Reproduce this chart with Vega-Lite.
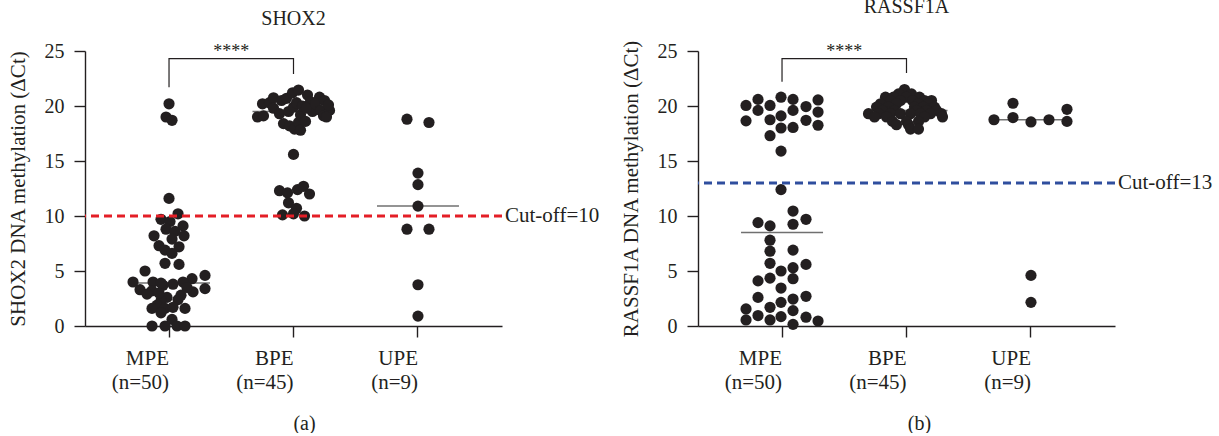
{
  "$schema": "https://vega.github.io/schema/vega-lite/v6.json",
  "background": "white",
  "padding": {"left": 6, "top": -3, "right": 0, "bottom": 0},
  "bounds": "flush",
  "spacing": 196,
  "config": {
    "font": "Liberation Serif",
    "view": {"stroke": null},
    "axis": {
      "grid": false,
      "domainColor": "#231f20", "domainWidth": 1.4,
      "tickColor": "#231f20", "tickWidth": 1.4,
      "labelColor": "#231f20", "titleColor": "#231f20",
      "labelFont": "Liberation Serif", "titleFont": "Liberation Serif",
      "titleFontWeight": "normal"
    },
    "title": {"font": "Liberation Serif", "fontWeight": "normal", "fontSize": 20, "color": "#231f20", "frame": "group", "baseline": "bottom"}
  },
  "datasets": {
    "shox2": [
      {"group": "MPE", "val": 20.2, "jitter": 0}, {"group": "MPE", "val": 19.0, "jitter": -3}, {"group": "MPE", "val": 18.7, "jitter": 3},
      {"group": "MPE", "val": 11.6, "jitter": 0}, {"group": "MPE", "val": 10.2, "jitter": 9}, {"group": "MPE", "val": 9.7, "jitter": -8},
      {"group": "MPE", "val": 9.5, "jitter": 1}, {"group": "MPE", "val": 9.1, "jitter": 14}, {"group": "MPE", "val": 8.8, "jitter": -3},
      {"group": "MPE", "val": 8.6, "jitter": 6}, {"group": "MPE", "val": 8.2, "jitter": -15}, {"group": "MPE", "val": 8.2, "jitter": 15},
      {"group": "MPE", "val": 7.9, "jitter": 3}, {"group": "MPE", "val": 7.3, "jitter": -10}, {"group": "MPE", "val": 7.2, "jitter": 10},
      {"group": "MPE", "val": 6.9, "jitter": -4}, {"group": "MPE", "val": 6.6, "jitter": 3}, {"group": "MPE", "val": 5.7, "jitter": -4},
      {"group": "MPE", "val": 5.6, "jitter": 10}, {"group": "MPE", "val": 5.0, "jitter": -24}, {"group": "MPE", "val": 4.6, "jitter": 36},
      {"group": "MPE", "val": 4.3, "jitter": 23}, {"group": "MPE", "val": 4.0, "jitter": -36}, {"group": "MPE", "val": 4.0, "jitter": -16},
      {"group": "MPE", "val": 4.0, "jitter": 14}, {"group": "MPE", "val": 3.8, "jitter": 4}, {"group": "MPE", "val": 3.7, "jitter": -6},
      {"group": "MPE", "val": 3.3, "jitter": -29}, {"group": "MPE", "val": 3.4, "jitter": 36}, {"group": "MPE", "val": 3.2, "jitter": -17},
      {"group": "MPE", "val": 3.1, "jitter": 24}, {"group": "MPE", "val": 2.8, "jitter": 12}, {"group": "MPE", "val": 2.6, "jitter": -2},
      {"group": "MPE", "val": 2.4, "jitter": 9}, {"group": "MPE", "val": 2.3, "jitter": -8}, {"group": "MPE", "val": 3.0, "jitter": -10},
      {"group": "MPE", "val": 3.5, "jitter": 18}, {"group": "MPE", "val": 1.9, "jitter": -12}, {"group": "MPE", "val": 1.6, "jitter": -17},
      {"group": "MPE", "val": 1.6, "jitter": -4}, {"group": "MPE", "val": 1.7, "jitter": 4}, {"group": "MPE", "val": 1.6, "jitter": 16},
      {"group": "MPE", "val": 1.2, "jitter": -8}, {"group": "MPE", "val": 0.6, "jitter": 3}, {"group": "MPE", "val": 0.0, "jitter": -17},
      {"group": "MPE", "val": 0.0, "jitter": -4}, {"group": "MPE", "val": 0.0, "jitter": 8}, {"group": "MPE", "val": 0.0, "jitter": 16},
      {"group": "MPE", "val": 3.9, "jitter": -8}, {"group": "MPE", "val": 2.9, "jitter": -22},

      {"group": "BPE", "val": 19.0, "jitter": -36}, {"group": "BPE", "val": 19.1, "jitter": -30}, {"group": "BPE", "val": 20.2, "jitter": -31},
      {"group": "BPE", "val": 20.3, "jitter": -24}, {"group": "BPE", "val": 20.75, "jitter": -20}, {"group": "BPE", "val": 19.8, "jitter": -20},
      {"group": "BPE", "val": 19.3, "jitter": -14}, {"group": "BPE", "val": 20.5, "jitter": -12}, {"group": "BPE", "val": 20.7, "jitter": -7},
      {"group": "BPE", "val": 19.5, "jitter": -5}, {"group": "BPE", "val": 18.4, "jitter": -10}, {"group": "BPE", "val": 18.2, "jitter": -4},
      {"group": "BPE", "val": 19.9, "jitter": 0}, {"group": "BPE", "val": 21.2, "jitter": -1}, {"group": "BPE", "val": 20.3, "jitter": 3},
      {"group": "BPE", "val": 17.9, "jitter": 1}, {"group": "BPE", "val": 18.5, "jitter": 5}, {"group": "BPE", "val": 19.2, "jitter": 7},
      {"group": "BPE", "val": 21.45, "jitter": 5}, {"group": "BPE", "val": 20.0, "jitter": 9}, {"group": "BPE", "val": 17.8, "jitter": 7},
      {"group": "BPE", "val": 18.6, "jitter": 12}, {"group": "BPE", "val": 21.0, "jitter": 14}, {"group": "BPE", "val": 20.4, "jitter": 17},
      {"group": "BPE", "val": 19.5, "jitter": 19}, {"group": "BPE", "val": 19.8, "jitter": 13}, {"group": "BPE", "val": 20.8, "jitter": 26},
      {"group": "BPE", "val": 20.2, "jitter": 22}, {"group": "BPE", "val": 19.6, "jitter": 27}, {"group": "BPE", "val": 19.1, "jitter": 30},
      {"group": "BPE", "val": 20.5, "jitter": 31}, {"group": "BPE", "val": 19.6, "jitter": 36}, {"group": "BPE", "val": 19.0, "jitter": 33},
      {"group": "BPE", "val": 20.1, "jitter": 35}, {"group": "BPE", "val": 15.6, "jitter": 0},
      {"group": "BPE", "val": 12.3, "jitter": -14}, {"group": "BPE", "val": 12.1, "jitter": -6}, {"group": "BPE", "val": 12.4, "jitter": 4},
      {"group": "BPE", "val": 12.7, "jitter": 10}, {"group": "BPE", "val": 12.0, "jitter": 16}, {"group": "BPE", "val": 11.2, "jitter": -5},
      {"group": "BPE", "val": 10.7, "jitter": 3}, {"group": "BPE", "val": 10.1, "jitter": -11}, {"group": "BPE", "val": 10.2, "jitter": 0},
      {"group": "BPE", "val": 10.0, "jitter": 11},

      {"group": "UPE", "val": 18.8, "jitter": -11}, {"group": "UPE", "val": 18.5, "jitter": 11}, {"group": "UPE", "val": 13.9, "jitter": 0},
      {"group": "UPE", "val": 12.85, "jitter": 0}, {"group": "UPE", "val": 10.9, "jitter": 0}, {"group": "UPE", "val": 8.8, "jitter": -11},
      {"group": "UPE", "val": 8.8, "jitter": 11}, {"group": "UPE", "val": 3.75, "jitter": 0}, {"group": "UPE", "val": 0.9, "jitter": 0}
    ],
    "rassf": [
      {"group": "MPE", "val": 20.05, "jitter": -36}, {"group": "MPE", "val": 20.6, "jitter": -24}, {"group": "MPE", "val": 19.6, "jitter": -24},
      {"group": "MPE", "val": 18.65, "jitter": -36}, {"group": "MPE", "val": 20.05, "jitter": -12}, {"group": "MPE", "val": 18.75, "jitter": -12},
      {"group": "MPE", "val": 17.3, "jitter": -12}, {"group": "MPE", "val": 20.8, "jitter": -1}, {"group": "MPE", "val": 19.1, "jitter": -1},
      {"group": "MPE", "val": 18.0, "jitter": -1}, {"group": "MPE", "val": 15.9, "jitter": -1}, {"group": "MPE", "val": 20.6, "jitter": 11},
      {"group": "MPE", "val": 19.6, "jitter": 11}, {"group": "MPE", "val": 18.05, "jitter": 11}, {"group": "MPE", "val": 19.95, "jitter": 24},
      {"group": "MPE", "val": 18.7, "jitter": 24}, {"group": "MPE", "val": 20.55, "jitter": 36}, {"group": "MPE", "val": 19.45, "jitter": 36},
      {"group": "MPE", "val": 18.25, "jitter": 36},
      {"group": "MPE", "val": 12.4, "jitter": -1}, {"group": "MPE", "val": 10.45, "jitter": 11}, {"group": "MPE", "val": 9.7, "jitter": 24},
      {"group": "MPE", "val": 9.25, "jitter": 11}, {"group": "MPE", "val": 9.4, "jitter": -24}, {"group": "MPE", "val": 9.1, "jitter": -12},
      {"group": "MPE", "val": 7.8, "jitter": -12}, {"group": "MPE", "val": 6.8, "jitter": -12}, {"group": "MPE", "val": 6.9, "jitter": 11},
      {"group": "MPE", "val": 5.7, "jitter": -12}, {"group": "MPE", "val": 5.6, "jitter": 24}, {"group": "MPE", "val": 5.0, "jitter": -1},
      {"group": "MPE", "val": 5.3, "jitter": 11}, {"group": "MPE", "val": 4.1, "jitter": -24}, {"group": "MPE", "val": 4.35, "jitter": -12},
      {"group": "MPE", "val": 4.3, "jitter": 11}, {"group": "MPE", "val": 3.45, "jitter": -1}, {"group": "MPE", "val": 2.6, "jitter": -24},
      {"group": "MPE", "val": 1.7, "jitter": -12}, {"group": "MPE", "val": 2.15, "jitter": -1}, {"group": "MPE", "val": 2.45, "jitter": 11},
      {"group": "MPE", "val": 2.7, "jitter": 24}, {"group": "MPE", "val": 1.55, "jitter": -36}, {"group": "MPE", "val": 0.55, "jitter": -36},
      {"group": "MPE", "val": 0.95, "jitter": -24}, {"group": "MPE", "val": 0.55, "jitter": -12}, {"group": "MPE", "val": 0.85, "jitter": -1},
      {"group": "MPE", "val": 1.4, "jitter": 11}, {"group": "MPE", "val": 0.15, "jitter": 11}, {"group": "MPE", "val": 0.8, "jitter": 24},
      {"group": "MPE", "val": 0.45, "jitter": 36},

      {"group": "BPE", "val": 21.5, "jitter": -2},
      {"group": "BPE", "val": 21.1, "jitter": -8}, {"group": "BPE", "val": 21.1, "jitter": 5},
      {"group": "BPE", "val": 20.8, "jitter": -21}, {"group": "BPE", "val": 20.8, "jitter": -13}, {"group": "BPE", "val": 20.8, "jitter": 0}, {"group": "BPE", "val": 20.8, "jitter": 13},
      {"group": "BPE", "val": 20.5, "jitter": -16}, {"group": "BPE", "val": 20.5, "jitter": -6}, {"group": "BPE", "val": 20.5, "jitter": 6}, {"group": "BPE", "val": 20.5, "jitter": 18}, {"group": "BPE", "val": 20.5, "jitter": 25},
      {"group": "BPE", "val": 20.2, "jitter": -26}, {"group": "BPE", "val": 20.2, "jitter": -10}, {"group": "BPE", "val": 20.2, "jitter": 12}, {"group": "BPE", "val": 20.2, "jitter": 22},
      {"group": "BPE", "val": 19.9, "jitter": -30}, {"group": "BPE", "val": 19.9, "jitter": -18}, {"group": "BPE", "val": 19.9, "jitter": 8}, {"group": "BPE", "val": 19.9, "jitter": 17}, {"group": "BPE", "val": 19.9, "jitter": 28},
      {"group": "BPE", "val": 19.6, "jitter": -24}, {"group": "BPE", "val": 19.6, "jitter": -12}, {"group": "BPE", "val": 19.6, "jitter": 10}, {"group": "BPE", "val": 19.6, "jitter": 20}, {"group": "BPE", "val": 19.6, "jitter": 30},
      {"group": "BPE", "val": 19.3, "jitter": -38}, {"group": "BPE", "val": 19.3, "jitter": -28}, {"group": "BPE", "val": 19.3, "jitter": -16}, {"group": "BPE", "val": 19.3, "jitter": -6},
      {"group": "BPE", "val": 19.3, "jitter": 4}, {"group": "BPE", "val": 19.3, "jitter": 14}, {"group": "BPE", "val": 19.3, "jitter": 24}, {"group": "BPE", "val": 19.3, "jitter": 35},
      {"group": "BPE", "val": 19.0, "jitter": -32}, {"group": "BPE", "val": 19.0, "jitter": -20}, {"group": "BPE", "val": 19.0, "jitter": 18}, {"group": "BPE", "val": 19.0, "jitter": 36},
      {"group": "BPE", "val": 18.6, "jitter": -14}, {"group": "BPE", "val": 18.6, "jitter": 0}, {"group": "BPE", "val": 18.6, "jitter": 12},
      {"group": "BPE", "val": 18.3, "jitter": -10}, {"group": "BPE", "val": 18.3, "jitter": 2},
      {"group": "BPE", "val": 17.9, "jitter": 4}, {"group": "BPE", "val": 17.9, "jitter": 12},

      {"group": "UPE", "val": 18.75, "jitter": -37}, {"group": "UPE", "val": 18.95, "jitter": -18}, {"group": "UPE", "val": 20.25, "jitter": -18},
      {"group": "UPE", "val": 18.55, "jitter": 0}, {"group": "UPE", "val": 18.75, "jitter": 18}, {"group": "UPE", "val": 19.7, "jitter": 36},
      {"group": "UPE", "val": 18.6, "jitter": 36}, {"group": "UPE", "val": 4.6, "jitter": 0}, {"group": "UPE", "val": 2.15, "jitter": 0}
    ],
    "shox2med": [{"group": "MPE", "val": 3.9}, {"group": "BPE", "val": 19.5}, {"group": "UPE", "val": 10.9}],
    "rassfmed": [{"group": "MPE", "val": 8.5}, {"group": "BPE", "val": 19.6}, {"group": "UPE", "val": 18.75}],
    "shox2br": [{"group": "MPE", "val": 21.7, "o": 1}, {"group": "MPE", "val": 24.3, "o": 2}, {"group": "BPE", "val": 24.3, "o": 3}, {"group": "BPE", "val": 22.9, "o": 4}],
    "rassfbr": [{"group": "MPE", "val": 22.2, "o": 1}, {"group": "MPE", "val": 24.3, "o": 2}, {"group": "BPE", "val": 24.3, "o": 3}, {"group": "BPE", "val": 23.0, "o": 4}],
    "stars": [{"group": "MPE", "label": "****"}],
    "cut10": [{"cut": 10, "label": "Cut-off=10"}],
    "cut13": [{"cut": 13, "label": "Cut-off=13"}]
  },
  "hconcat": [
    {
      "width": 417, "height": 275,
      "title": {"text": "SHOX2", "offset": 12},
      "layer": [
        {
          "data": {"name": "shox2med"},
          "mark": {"type": "tick", "size": 82, "thickness": 1.5, "color": "#333333"},
          "encoding": {
            "x": {"field": "group", "type": "nominal"},
            "y": {"field": "val", "type": "quantitative"}
          }
        },
        {
          "data": {"name": "shox2"},
          "mark": {"type": "circle", "size": 125, "opacity": 1, "color": "#231f20"},
          "encoding": {
            "x": {
              "field": "group", "type": "nominal", "sort": ["MPE", "BPE", "UPE"],
              "scale": {"domain": ["MPE", "BPE", "UPE"], "paddingInner": 0, "paddingOuter": 0.175},
              "axis": {
                "title": "(a)", "titleFontSize": 20, "titleX": 219, "titleY": 103, "titleBaseline": "alphabetic",
                "labelAngle": 0, "labelFontSize": 21, "tickSize": 11, "labelPadding": 21, "labelLineHeight": 24,
                "labelExpr": "[datum.value, datum.value == 'MPE' ? '(n=50)' : datum.value == 'BPE' ? '(n=45)' : '(n=9)']"
              }
            },
            "xOffset": {"field": "jitter", "type": "quantitative", "scale": {"domain": [-41, 41], "range": [21.24, 103.24]}},
            "y": {
              "field": "val", "type": "quantitative",
              "scale": {"domain": [0, 25], "nice": false, "zero": true},
              "axis": {
                "title": "SHOX2 DNA methylation (ΔCt)", "titleFontSize": 21, "titlePadding": 16,
                "values": [0, 5, 10, 15, 20, 25], "tickSize": 11, "labelFontSize": 20, "labelPadding": 10
              }
            }
          }
        },
        {
          "data": {"name": "cut10"},
          "mark": {"type": "rule", "color": "#e41e26", "strokeWidth": 3, "strokeDash": [8, 5]},
          "encoding": {"y": {"field": "cut", "type": "quantitative"}}
        },
        {
          "data": {"name": "cut10"},
          "mark": {"type": "text", "align": "left", "baseline": "middle", "dx": 3, "fontSize": 21, "color": "#231f20"},
          "encoding": {"x": {"value": "width"}, "y": {"field": "cut", "type": "quantitative"}, "text": {"field": "label"}}
        },
        {
          "data": {"name": "shox2br"},
          "mark": {"type": "line", "color": "#231f20", "strokeWidth": 1.2},
          "encoding": {
            "x": {"field": "group", "type": "nominal"},
            "y": {"field": "val", "type": "quantitative"},
            "order": {"field": "o", "type": "quantitative"}
          }
        },
        {
          "data": {"name": "stars"},
          "mark": {"type": "text", "fontSize": 18, "baseline": "alphabetic", "align": "center", "color": "#231f20"},
          "encoding": {
            "x": {"field": "group", "type": "nominal", "bandPosition": 1},
            "y": {"datum": 24.5},
            "text": {"field": "label"}
          }
        }
      ]
    },
    {
      "width": 417, "height": 275,
      "title": {"text": "RASSF1A", "offset": 22},
      "layer": [
        {
          "data": {"name": "rassfmed"},
          "mark": {"type": "tick", "size": 82, "thickness": 1.5, "color": "#333333"},
          "encoding": {
            "x": {"field": "group", "type": "nominal"},
            "y": {"field": "val", "type": "quantitative"}
          }
        },
        {
          "data": {"name": "rassf"},
          "mark": {"type": "circle", "size": 125, "opacity": 1, "color": "#231f20"},
          "encoding": {
            "x": {
              "field": "group", "type": "nominal", "sort": ["MPE", "BPE", "UPE"],
              "scale": {"domain": ["MPE", "BPE", "UPE"], "paddingInner": 0, "paddingOuter": 0.175},
              "axis": {
                "title": "(b)", "titleFontSize": 20, "titleX": 221, "titleY": 103, "titleBaseline": "alphabetic",
                "labelAngle": 0, "labelFontSize": 21, "tickSize": 11, "labelPadding": 21, "labelLineHeight": 24,
                "labelExpr": "[datum.value, datum.value == 'MPE' ? '(n=50)' : datum.value == 'BPE' ? '(n=45)' : '(n=9)']"
              }
            },
            "xOffset": {"field": "jitter", "type": "quantitative", "scale": {"domain": [-41, 41], "range": [21.24, 103.24]}},
            "y": {
              "field": "val", "type": "quantitative",
              "scale": {"domain": [0, 25], "nice": false, "zero": true},
              "axis": {
                "title": "RASSF1A DNA methylation (ΔCt)", "titleFontSize": 21, "titlePadding": 16,
                "values": [0, 2.5, 5, 7.5, 10, 12.5, 15, 17.5, 20, 22.5, 25],
                "tickSize": {"condition": {"test": "datum.value % 5 === 0", "value": 11}, "value": 4},
                "labelExpr": "datum.value % 5 === 0 ? datum.label : ''",
                "labelFontSize": 20, "labelPadding": 10
              }
            }
          }
        },
        {
          "data": {"name": "cut13"},
          "mark": {"type": "rule", "color": "#2f4e9e", "strokeWidth": 3, "strokeDash": [8, 5]},
          "encoding": {"y": {"field": "cut", "type": "quantitative"}}
        },
        {
          "data": {"name": "cut13"},
          "mark": {"type": "text", "align": "left", "baseline": "middle", "dx": 3, "fontSize": 21, "color": "#231f20"},
          "encoding": {"x": {"value": "width"}, "y": {"field": "cut", "type": "quantitative"}, "text": {"field": "label"}}
        },
        {
          "data": {"name": "rassfbr"},
          "mark": {"type": "line", "color": "#231f20", "strokeWidth": 1.2},
          "encoding": {
            "x": {"field": "group", "type": "nominal"},
            "y": {"field": "val", "type": "quantitative"},
            "order": {"field": "o", "type": "quantitative"}
          }
        },
        {
          "data": {"name": "stars"},
          "mark": {"type": "text", "fontSize": 18, "baseline": "alphabetic", "align": "center", "color": "#231f20"},
          "encoding": {
            "x": {"field": "group", "type": "nominal", "bandPosition": 1},
            "y": {"datum": 24.5},
            "text": {"field": "label"}
          }
        }
      ]
    }
  ]
}
